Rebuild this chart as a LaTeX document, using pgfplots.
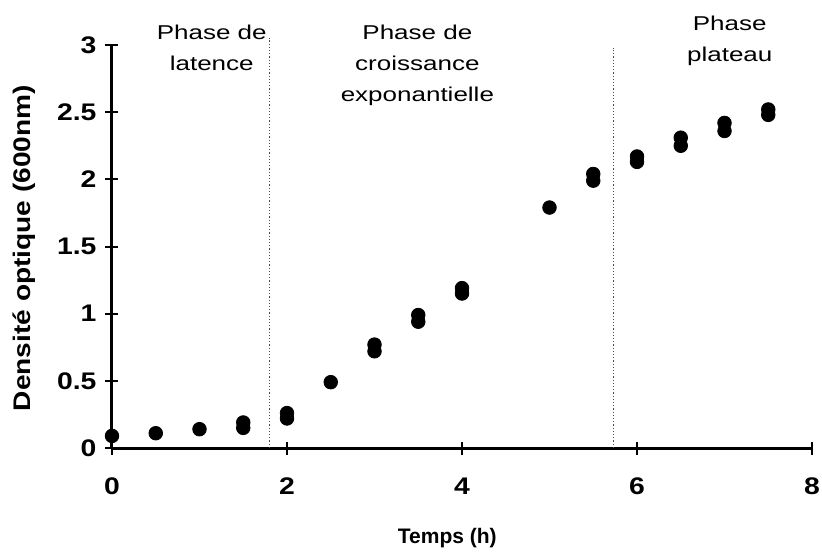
\documentclass[border=0pt]{standalone}
\usepackage{fontspec}
\setmainfont{Liberation Sans}
\newfontfamily\tickfont{Liberation Sans}[FakeStretch=1.18]
\newfontfamily\labelfont{Liberation Sans}[FakeStretch=1.17]
\newfontfamily\phasefont{Liberation Sans}[FakeStretch=1.3]
\usepackage{pgfplots}
\pgfplotsset{compat=1.18}

\begin{document}
\begin{tikzpicture}
\useasboundingbox (-56pt,-51.5pt) rectangle (355pt,224pt);
\begin{axis}[
    scale only axis,
    width=350pt,
    height=201.5pt,
    xmin=0, xmax=8,
    ymin=0, ymax=3,
    axis lines=left,
    axis line style={-, line width=1.5pt},
    xtick={0,2,4,6,8},
    ytick={0,0.5,1,1.5,2,2.5,3},
    tick align=center,
    major tick length=6.5pt,
    tick style={line width=1pt, black},
    /pgf/number format/assume math mode=true,
    ticklabel style={font=\tickfont\fontsize{12}{14}\selectfont\bfseries},
    xticklabel style={yshift=-8pt},
    yticklabel style={xshift=-1pt},
    xlabel={Temps (h)},
    ylabel={Densité optique (600nm)},
    xlabel style={font=\fontsize{10.5}{12}\selectfont\bfseries,
        at={(axis description cs:0.479,-0.223)}, anchor=center},
    ylabel style={font=\labelfont\fontsize{12}{14}\selectfont\bfseries,
        at={(axis description cs:-0.126,0.496)}, anchor=center},
    clip=false,
]

    % phase limits
    \addplot[densely dotted, line width=0.6pt, black!70]
        coordinates {(1.8,0)(1.8,3.05)};
    \addplot[densely dotted, line width=0.6pt, black!70]
        coordinates {(5.73,0)(5.73,2.98)};

    % optical density, replicates
    \addplot[only marks, mark=*, mark size=3.4pt, black]
        coordinates {
            (0,0.09)(0.5,0.11)(1,0.14)(1.5,0.15)(1.5,0.19)
            (2,0.22)(2,0.26)(2.5,0.49)(3,0.72)(3,0.77)
            (3.5,0.94)(3.5,0.99)(4,1.15)(4,1.19)(5,1.79)
            (5.5,1.99)(5.5,2.04)(6,2.13)(6,2.17)(6.5,2.25)
            (6.5,2.31)(7,2.36)(7,2.42)(7.5,2.48)(7.5,2.52)
        };

    \node[align=center, anchor=north, inner sep=0pt, font=\phasefont\fontsize{10}{15.5}\selectfont]
        at (axis cs:1.14,3.15) {Phase de\\latence};
    \node[align=center, anchor=north, inner sep=0pt, font=\phasefont\fontsize{10}{15.5}\selectfont]
        at (axis cs:3.49,3.15) {Phase de\\croissance\\exponantielle};
    \node[align=center, anchor=north, inner sep=0pt, font=\phasefont\fontsize{10}{15.5}\selectfont]
        at (axis cs:7.06,3.22) {Phase\\plateau};

\end{axis}
\end{tikzpicture}
\end{document}
